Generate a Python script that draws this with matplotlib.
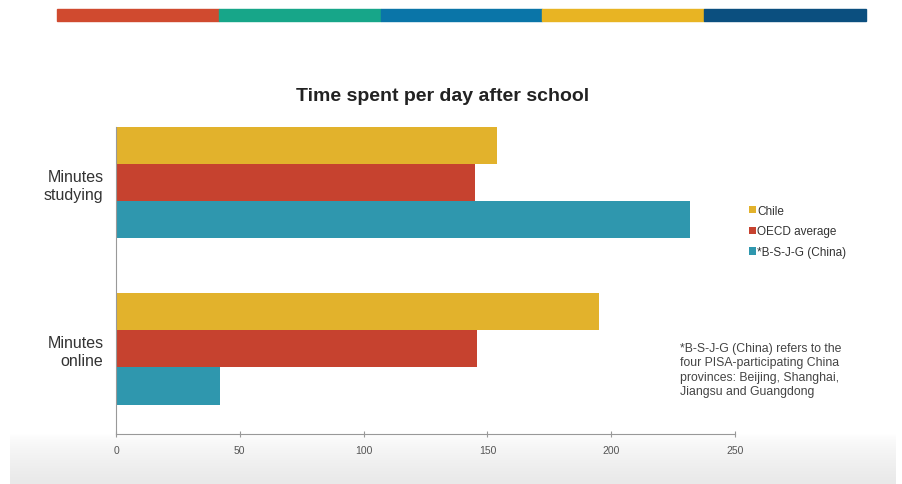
import numpy as np
import matplotlib
matplotlib.use("Agg")
import matplotlib.pyplot as plt
from matplotlib.colors import LinearSegmentedColormap

plt.rcParams['font.family'] = ['Liberation Sans', 'DejaVu Sans']

# data
categories = ["Minutes\nonline", "Minutes\nstudying"]
series = ["Chile", "OECD average", "*B-S-J-G (China)"]
chile = [195, 154]
oecd = [146, 145]
china = [42, 232]
colors = ["#E2B22C", "#C6422F", "#2F97AE"]
stripe_colors = ["#D04A2F", "#17A689", "#0A75A8", "#E8B423", "#0B4F7F"]
xticks = [0, 50, 100, 150, 200, 250]

fig = plt.figure(figsize=(9.02, 4.85), dpi=100)

# coloured stripe at the top
for i, c in enumerate(stripe_colors):
    fig.patches.append(plt.Rectangle((57/902 + i*161.8/902, 1 - 22/485), 161.8/902, 12/485,
                                     transform=fig.transFigure, color=c, zorder=1))

# soft grey band at the bottom (white on top, light grey at the bottom edge)
grey = LinearSegmentedColormap.from_list("fade", ["#ffffff", "#e9e9e9"])
grad = np.linspace(0, 1, 60).reshape(-1, 1) ** 0.7
bax = fig.add_axes([10/902, 0, 885/902, 50/485], zorder=0)
bax.imshow(grad, aspect='auto', cmap=grey, vmin=0, vmax=1, extent=[0, 1, 0, 1])
bax.axis('off')

ax = fig.add_axes([116/902, 1 - 435/485, 619/902, 320/485], zorder=2)
ax.patch.set_alpha(0)
y = np.arange(len(categories))
h = 0.223
ax.barh(y + h, chile, height=h, color=colors[0], label=series[0])
ax.barh(y, oecd, height=h, color=colors[1], label=series[1])
ax.barh(y - h, china, height=h, color=colors[2], label=series[2])

ax.set_xlim(0, 250)
ax.set_ylim(-0.512, 1.415)
ax.set_xticks(xticks)
ax.set_xticklabels([str(t) for t in xticks], fontsize=7.5, color="#555555")
ax.set_yticks(y)
ax.set_yticklabels(categories, fontsize=11.5, color="#333333", ha='right')
ax.tick_params(axis='y', length=0, pad=9)
ax.tick_params(axis='x', direction='inout', length=4, color="#999999", pad=6)
for s in ['top', 'right']:
    ax.spines[s].set_visible(False)
ax.spines['left'].set_color("#999999")
ax.spines['bottom'].set_color("#999999")
ax.spines['left'].set_bounds(-0.512, 1.335)

fig.text(443/902, 1 - 97/485, "Time spent per day after school", ha='center', va='center',
         fontsize=14, fontweight='bold', color="#222222")

leg = fig.legend(loc='upper left', bbox_to_anchor=(738/902, 1 - 195/485), frameon=False,
                 fontsize=8.5, handlelength=0.6, handleheight=0.6, handletextpad=0.1,
                 labelspacing=0.75, labelcolor="#333333")

fig.text(680/902, 1 - 343/485,
         "*B-S-J-G (China) refers to the\nfour PISA-participating China\nprovinces: Beijing, Shanghai,\nJiangsu and Guangdong",
         ha='left', va='top', fontsize=8.8, color="#444444", linespacing=1.25)

fig.savefig("out.png", dpi=100)
